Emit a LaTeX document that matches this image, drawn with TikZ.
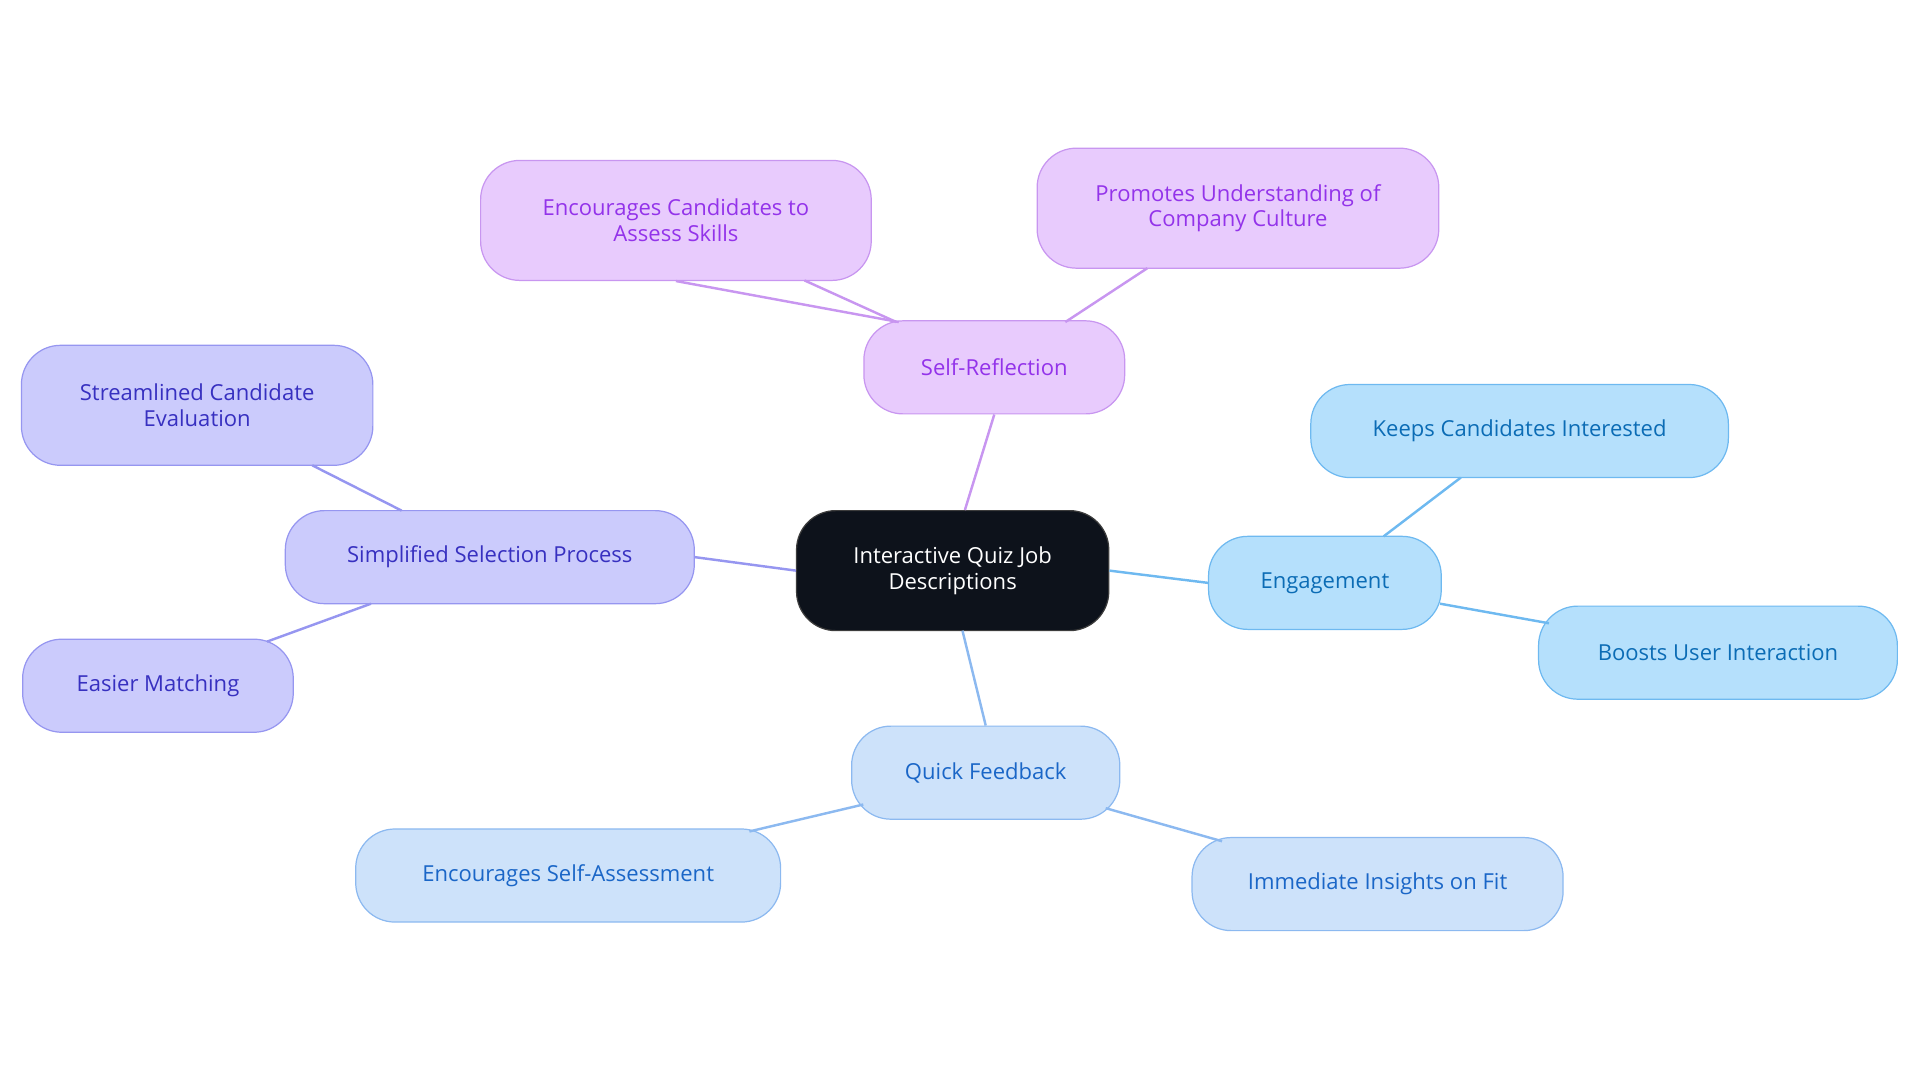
\documentclass[tikz,border=0pt]{standalone}
\usepackage{fontspec}
\setmainfont{Open Sans}
\begin{document}
\begin{tikzpicture}[x=1pt,y=-1pt,
  base/.style={rounded corners=32pt,align=center,font=\fontsize{18}{21}\selectfont,inner sep=0pt,line width=1pt},
  pur/.style={base,fill=purple!0!white,fill={rgb,255:red,232;green,203;blue,253},draw={rgb,255:red,200;green,150;blue,240},text={rgb,255:red,147;green,51;blue,234}},
  ind/.style={base,fill={rgb,255:red,203;green,203;blue,252},draw={rgb,255:red,150;green,150;blue,240},text={rgb,255:red,55;green,48;blue,192}},
  sky/.style={base,fill={rgb,255:red,181;green,224;blue,252},draw={rgb,255:red,110;green,185;blue,240},text={rgb,255:red,11;green,108;blue,181}},
  blu/.style={base,fill={rgb,255:red,205;green,226;blue,250},draw={rgb,255:red,140;green,185;blue,240},text={rgb,255:red,26;green,102;blue,199}},
  lp/.style={line width=2pt,draw={rgb,255:red,200;green,150;blue,240}},
  li/.style={line width=2pt,draw={rgb,255:red,150;green,150;blue,240}},
  ls/.style={line width=2pt,draw={rgb,255:red,110;green,185;blue,240}},
  lb/.style={line width=2pt,draw={rgb,255:red,140;green,185;blue,240}}]
\useasboundingbox (0,0) rectangle (1568,884);
\node[base,fill={rgb,255:red,13;green,18;blue,27},draw={rgb,255:red,60;green,60;blue,60},text=white,minimum width=255pt,minimum height=98pt] (c) at (778,466) {Interactive Quiz Job\\Descriptions};
\node[pur,minimum width=213pt,minimum height=76pt] (sr) at (812,300) {Self-Reflection};
\node[pur,minimum width=319pt,minimum height=98pt] (sr1) at (552,180) {Encourages Candidates to\\Assess Skills};
\node[pur,minimum width=328pt,minimum height=98pt] (sr2) at (1011,170) {Promotes Understanding of\\Company Culture};
\node[ind,minimum width=334pt,minimum height=76pt] (ss) at (400,455) {Simplified Selection Process};
\node[ind,minimum width=287pt,minimum height=98pt] (ss1) at (161,331) {Streamlined Candidate\\Evaluation};
\node[ind,minimum width=221pt,minimum height=76pt] (ss2) at (129,560) {Easier Matching};
\node[sky,minimum width=190pt,minimum height=76pt] (en) at (1082,476) {Engagement};
\node[sky,minimum width=341pt,minimum height=76pt] (en1) at (1241,352) {Keeps Candidates Interested};
\node[sky,minimum width=293pt,minimum height=76pt] (en2) at (1403,533) {Boosts User Interaction};
\node[blu,minimum width=219pt,minimum height=76pt] (qf) at (805,631) {Quick Feedback};
\node[blu,minimum width=347pt,minimum height=76pt] (qf1) at (464,715) {Encourages Self-Assessment};
\node[blu,minimum width=303pt,minimum height=76pt] (qf2) at (1125,722) {Immediate Insights on Fit};
\begin{scope}[on background layer/.try]
\end{scope}
\draw[lp] (c.north)++(10,0) -- (sr.south);
\draw[lp] (sr) ++(-78,-37) -- (sr1.south)++(105,0);
\draw[lp] (732,263) -- (657,229);
\draw[lp] (870,263) -- (937,219);
\draw[li] (c.west) -- (ss.east);
\draw[li] (328,417) -- (255,380);
\draw[li] (303,493) -- (218,524);
\draw[ls] (c.east) -- (en.west);
\draw[ls] (1130,438) -- (1193,390);
\draw[ls] (1176,493) -- (1265,509);
\draw[lb] (786,515) -- (qf.north);
\draw[lb] (705,657) -- (612,679);
\draw[lb] (903,660) -- (998,687);
\end{tikzpicture}
\end{document}
